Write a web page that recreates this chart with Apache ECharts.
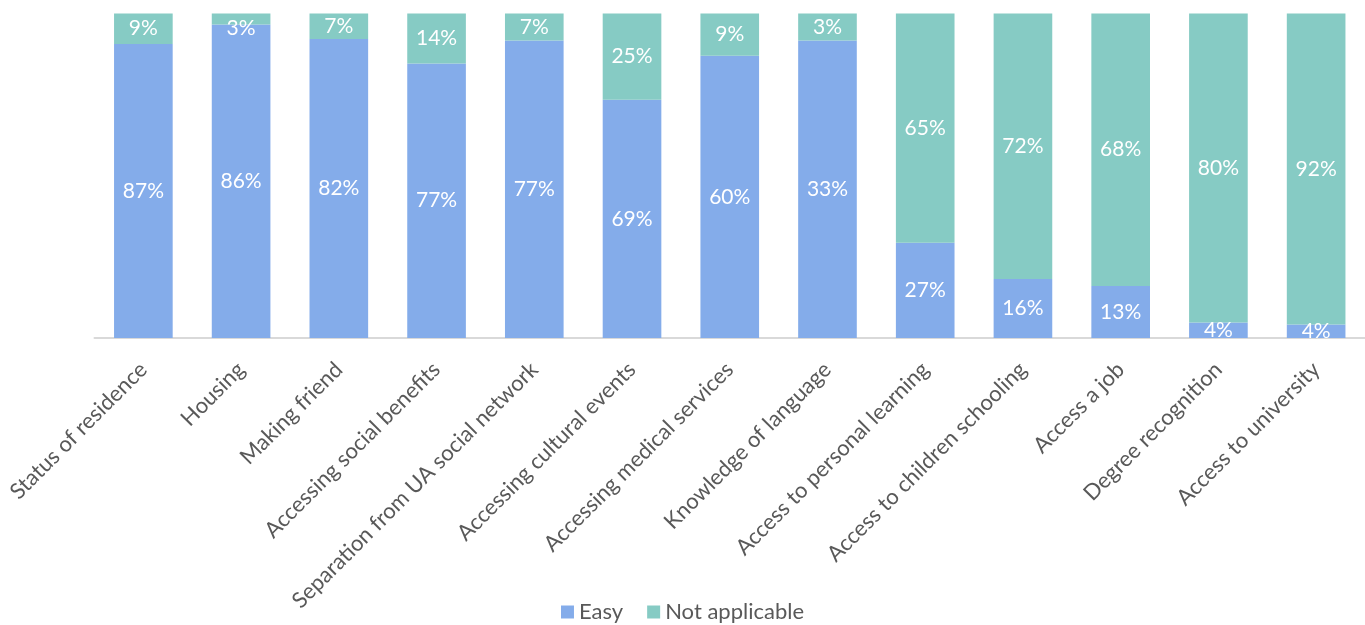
<!DOCTYPE html>
<html>
<head>
<meta charset="utf-8">
<script src="https://cdn.jsdelivr.net/npm/echarts@6/dist/echarts.min.js"></script>
<style>
  html, body { margin: 0; padding: 0; background: #fff; }
  #chart { width: 1365px; height: 625px; }
</style>
</head>
<body>
<div id="chart"></div>
<script>
// Survey answers per topic (percent of respondents)
const categories = [
  'Status of residence', 'Housing', 'Making friend', 'Accessing social benefits',
  'Separation from UA social network', 'Accessing cultural events',
  'Accessing medical services', 'Knowledge of language',
  'Access to personal learning', 'Access to children schooling',
  'Access a job', 'Degree recognition', 'Access to university'
];
const easy = [87, 86, 82, 77, 77, 69, 60, 33, 27, 16, 13, 4, 4];
const notApplicable = [9, 3, 7, 14, 7, 25, 9, 3, 65, 72, 68, 80, 92];
const seriesNames = ['Easy', 'Not applicable'];

// Bars are drawn as a 100% stack of the two answers; labels show the raw percentages.
const totals = easy.map((v, i) => v + notApplicable[i]);

const FONT = 'Lato, "Open Sans", sans-serif';

// Very thin segments at the top of a column get their label nudged down
// so it stays inside the plot area.
const buildData = (raw, isTop) => raw.map((v, i) => {
  const pct = v / totals[i] * 100;
  const item = { value: pct };
  if (isTop && pct < 5) item.label = { offset: [0, 9] };
  return item;
});

const labelStyle = (raw) => ({
  show: true,
  position: 'inside',
  color: '#ffffff',
  fontFamily: FONT,
  fontSize: 21,
  formatter: (p) => raw[p.dataIndex] + '%'
});

const chart = echarts.init(document.getElementById('chart'), null, { renderer: 'canvas' });
chart.setOption({
  animation: false,
  grid: { left: 94.5, top: 13.5, width: 1274, height: 324.5, containLabel: false },
  legend: {
    data: seriesNames,
    top: 596,
    left: 'center',
    icon: 'rect',
    itemWidth: 13,
    itemHeight: 13,
    itemGap: 24,
    textStyle: { color: '#595959', fontFamily: FONT, fontSize: 22 }
  },
  xAxis: {
    type: 'category',
    data: categories,
    axisLine: { lineStyle: { color: '#d9d9d9', width: 2 } },
    axisTick: { show: false },
    axisLabel: {
      rotate: 45,
      interval: 0,
      margin: 28,
      color: '#595959',
      fontFamily: FONT,
      fontSize: 22
    }
  },
  yAxis: {
    type: 'value',
    min: 0,
    max: 100,
    show: false,
    splitLine: { show: false }
  },
  series: [
    {
      name: seriesNames[0],
      type: 'bar',
      stack: 'total',
      barCategoryGap: '40%',
      data: buildData(easy, false),
      itemStyle: { color: '#84ACEA' },
      label: labelStyle(easy)
    },
    {
      name: seriesNames[1],
      type: 'bar',
      stack: 'total',
      barCategoryGap: '40%',
      data: buildData(notApplicable, true),
      itemStyle: { color: '#86CBC4' },
      label: labelStyle(notApplicable)
    }
  ]
});
</script>
</body>
</html>
